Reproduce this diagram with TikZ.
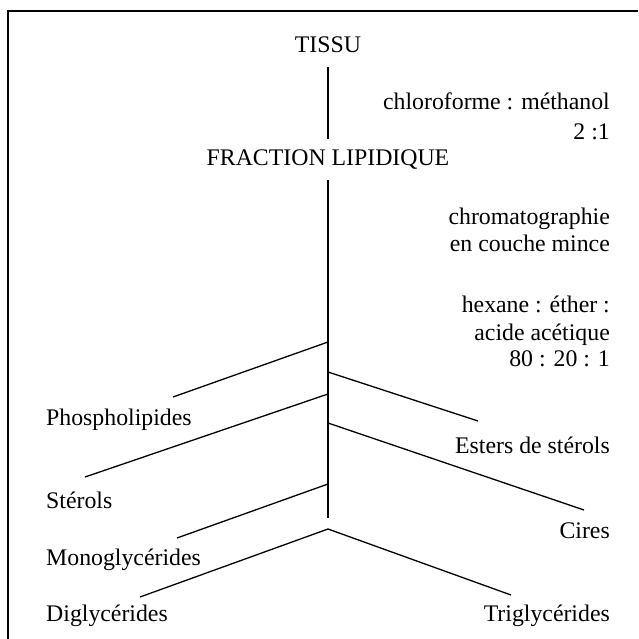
\documentclass[tikz,border=0pt]{standalone}
\usepackage{fontspec}
\setmainfont{Liberation Serif}
\begin{document}
\begin{tikzpicture}[x=1pt,y=-1pt,
	etiq/.style={inner sep=0pt,font=\fontsize{23.8}{28}\selectfont,text height=16pt,text depth=5pt},
	cond/.style={inner sep=0pt,font=\fontsize{23.8}{28}\selectfont,align=right,anchor=base east},
	trait/.style={line width=1.3pt}]
				\useasboundingbox (0,0) rectangle (638,639);
				\draw[line width=1.8pt] (8,639)--(8,11)--(638,11);
				\node[etiq,anchor=base] (tissu) at (328,53) {TISSU};
				\node[etiq,anchor=base] (fraction) at (328,166) {FRACTION LIPIDIQUE};
				\node[cond] (solvant) at (610,140) {chloroforme : méthanol\\[2pt] 2 :1};
				\node[cond] (ccm) at (610,251) {chromatographie\\[-1pt] en couche mince};
				\node[cond] (eluant) at (610,366) {hexane : éther :\\ acide acétique\\[-2pt] 80 : 20 : 1};
				\node[etiq,anchor=base west] (phos) at (46,425) {Phospholipides};
				\node[etiq,anchor=base east] (esters) at (610,453) {Esters de stérols};
				\node[etiq,anchor=base west] (sterols) at (46,508) {Stérols};
				\node[etiq,anchor=base east] (cires) at (610,538) {Cires};
				\node[etiq,anchor=base west] (mono) at (46,565) {Monoglycérides};
				\node[etiq,anchor=base west] (di) at (46,621) {Diglycérides};
				\node[etiq,anchor=base east] (tri) at (610,621) {Triglycérides};
				% tronc
				\coordinate (bas) at (328,518);
				\draw[trait,shorten <=9pt,shorten >=11pt] (tissu.south)--(fraction.north);
				\draw[trait,shorten <=9pt] (fraction.south)--(bas);
				% branches
				\coordinate (b1) at (328,342); \coordinate (e1) at (173,397);
				\coordinate (b2) at (328,372); \coordinate (e2) at (478,421);
				\coordinate (b3) at (328,394); \coordinate (e3) at (85,477);
				\coordinate (b4) at (328,423); \coordinate (e4) at (584,510);
				\coordinate (b5) at (328,484); \coordinate (e5) at (177,538);
				\coordinate (b6) at (328,529); \coordinate (e6) at (140,597);
				\coordinate (e7) at (511,595);
				\draw[trait] (b1)--(e1);
				\draw[trait] (b2)--(e2);
				\draw[trait] (b3)--(e3);
				\draw[trait] (b4)--(e4);
				\draw[trait] (b5)--(e5);
				\draw[trait] (e6)--(b6)--(e7);
\end{tikzpicture}
\end{document}
